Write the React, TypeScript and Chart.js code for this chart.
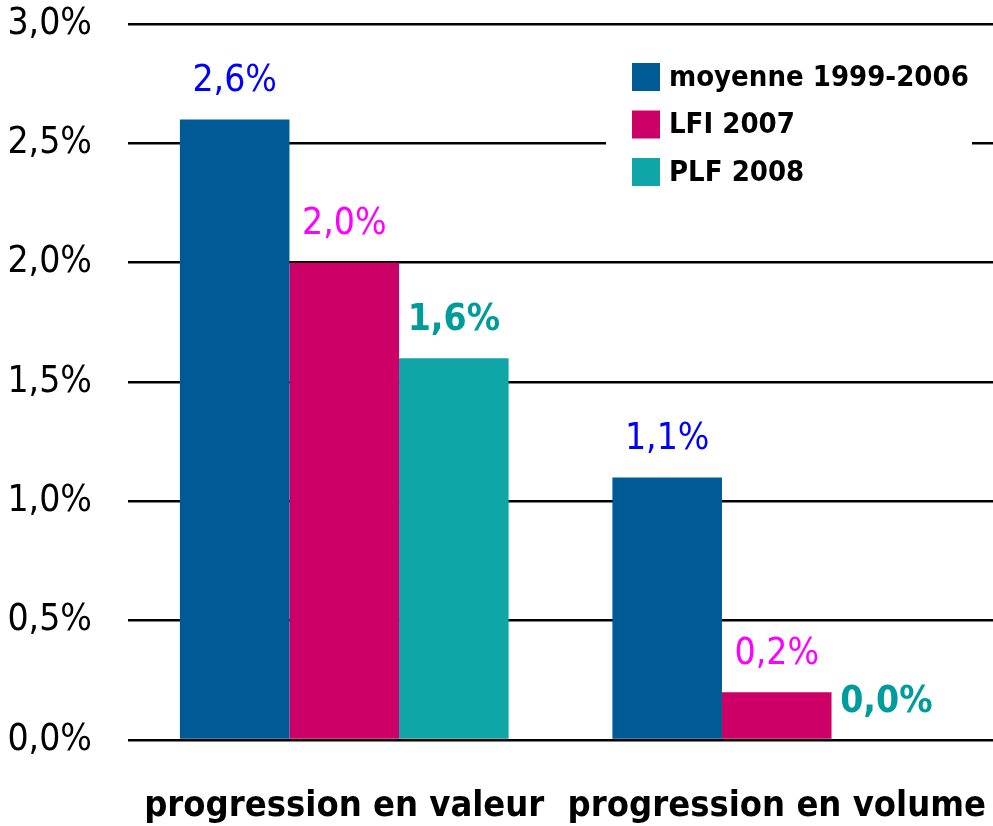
import React, { useEffect, useRef } from "react";
import { Chart, registerables } from "chart.js";

Chart.register(...registerables);

const categories = ["progression en valeur", "progression en volume"];
const seriesNames = ["moyenne 1999-2006", "LFI 2007", "PLF 2008"];
const moyenne = [2.6, 1.1];
const lfi2007 = [2.0, 0.2];
const plf2008 = [1.6, 0.0];
const tickLabels = ["0,0%", "0,5%", "1,0%", "1,5%", "2,0%", "2,5%", "3,0%"];

const barColors = ["#005A96", "#CC0066", "#10A6A8"];
const labelColors = ["#0000FF", "#FF00FF", "#009C9C"];
const labelWeights = ["normal", "normal", "bold"];
const FONT = '"Liberation Sans Narrow", "Arial Narrow", "DejaVu Sans Condensed", sans-serif';

const fmt = (v: number) => v.toFixed(1).replace(".", ",") + "%";

const dataLabelPlugin = {
  id: "dataLabels",
  afterDatasetsDraw(chart: any) {
    const ctx = chart.ctx;
    ctx.save();
    chart.data.datasets.forEach((ds: any, i: number) => {
      const meta = chart.getDatasetMeta(i);
      meta.data.forEach((el: any, j: number) => {
        ctx.font = `${labelWeights[i]} 37px ${FONT}`;
        ctx.fillStyle = labelColors[i];
        ctx.textAlign = "center";
        ctx.textBaseline = "middle";
        ctx.fillText(fmt(ds.data[j]), el.x, el.y - 38);
      });
    });
    ctx.restore();
  },
};

const legendPlugin = {
  id: "customLegend",
  afterDatasetsDraw(chart: any) {
    const ctx = chart.ctx;
    const area = chart.chartArea;
    const x0 = chart.width - 387;
    const y0 = area.top + 18;
    ctx.save();
    ctx.fillStyle = "#FFFFFF";
    ctx.fillRect(x0, y0, 366, 160);
    chart.data.datasets.forEach((ds: any, i: number) => {
      const cy = y0 + 35 + i * 47.5;
      ctx.fillStyle = ds.backgroundColor;
      ctx.fillRect(x0 + 26, cy - 14, 28, 28);
      ctx.fillStyle = "#000000";
      ctx.font = `bold 29px ${FONT}`;
      ctx.textAlign = "left";
      ctx.textBaseline = "middle";
      ctx.fillText(ds.label, x0 + 63, cy + 1);
    });
    ctx.restore();
  },
};

export default function App() {
  const ref = useRef<HTMLCanvasElement>(null);
  useEffect(() => {
    const chart = new Chart(ref.current!, {
      type: "bar",
      data: {
        labels: categories,
        datasets: [moyenne, lfi2007, plf2008].map((d, i) => ({
          label: seriesNames[i],
          data: d,
          backgroundColor: barColors[i],
          borderWidth: 0,
          barPercentage: 1,
          categoryPercentage: 0.76,
        })),
      },
      options: {
        animation: false,
        responsive: false,
        maintainAspectRatio: false,
        layout: { padding: { top: 24, right: -8, bottom: 0, left: 0 } },
        plugins: {
          legend: { display: false },
          tooltip: { enabled: false },
        },
        scales: {
          x: {
            afterFit: (s: any) => {
              s.height = 86;
              s.paddingLeft = 0;
              s.paddingRight = 0;
            },
            grid: { display: false },
            border: { display: false },
            ticks: {
              color: "#000000",
              font: { family: FONT, size: 36, weight: "bold" },
              padding: 37,
              maxRotation: 0,
              autoSkip: false,
            },
          },
          y: {
            min: 0,
            max: 3,
            afterFit: (s: any) => {
              s.width = 128;
              s.paddingTop = 0;
              s.paddingBottom = 0;
            },
            grid: { color: "#000000", lineWidth: 2.5, drawTicks: false },
            border: { display: false },
            ticks: {
              stepSize: 0.5,
              color: "#000000",
              padding: 36,
              font: { family: FONT, size: 37 },
              callback: (_v: any, idx: number) => tickLabels[idx],
            },
          },
        },
      },
      plugins: [dataLabelPlugin, legendPlugin],
    });
    return () => chart.destroy();
  }, []);
  return (
    <div style={{ position: "fixed", left: 0, top: 0, width: 993, height: 826, background: "#fff" }}>
      <canvas ref={ref} width={993} height={826} style={{ display: "block" }} />
    </div>
  );
}
